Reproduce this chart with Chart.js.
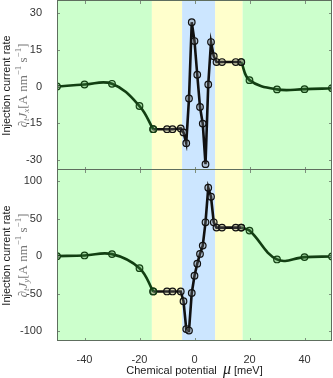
<!DOCTYPE html>
<html>
<head>
<meta charset="utf-8">
<script src="https://cdn.jsdelivr.net/npm/chart.js@4"></script>
<style>
html, body { margin: 0; padding: 0; background: #fff; }
#wrap { position: relative; width: 333px; height: 378px; }
#topChart { position: absolute; left: 0; top: 0; }
#botChart { position: absolute; left: 0; top: 169px; }
</style>
</head>
<body>
<div id="wrap">
  <canvas id="topChart" width="333" height="171"></canvas>
  <canvas id="botChart" width="333" height="209"></canvas>
</div>
<script>
// Chemical potential (meV) for each segment
const muLeft = [-50, -40, -30, -20, -15];
const muMid = [-15, -10, -8, -5, -4, -3, -2, -1, 0, 1, 2, 3, 4, 5, 6, 7, 8, 10, 15, 17];
const muRight = [17, 20, 30, 40, 50];

// d/dt Jx
const jxLeft = [0, 0.8, 1.1, -8, -17.5];
const jxMid = [-17.5, -17.5, -17.5, -17.2, -18.8, -23.2, -4.9, 26.3, 18.6, 4.8, -8.4, -15.2, -31.8, 0.8, 18.2, 12.4, 10, 10, 10, 10];
const jxRight = [10, 2.6, -1.2, -1.1, -0.7];

// d/dt Jy
const jyLeft = [0, 0.9, 2.7, -16, -47];
const jyMid = [-47, -47, -47, -47, -60, -97, -99, -49, -26, -10, 3, 14, 45, 91, 79, 45, 38, 38, 38, 38];
const jyRight = [38, 34, -4.4, -1.3, -0.4];

// ticks
const xTicks = [-40, -20, 0, 20, 40];
const yTicksX = [-30, -15, 0, 15, 30];
const yTicksY = [-100, -50, 0, 50, 100];

// shaded regions
const bandEdges = [-50, -15.5, -4.5, 7.5, 17.5, 50];
const bandColors = ['#ccffcc', '#ffffcc', '#cce6ff', '#ffffcc', '#ccffcc'];

const GREEN = '#123f12';
const BLACK = '#111111';
const sans = '"Liberation Sans", Arial, sans-serif';
const serif = '"Liberation Serif", "DejaVu Serif", serif';

function pts(xs, ys) {
    return xs.map((x, i) => ({ x: x, y: ys[i] }));
}

function lineSet(data, color, fill, tension) {
    return {
        data: data,
        borderColor: color,
        borderWidth: 2.6,
        tension: tension,
        pointRadius: 3.3,
        pointBorderWidth: 1.2,
        pointBorderColor: color,
        pointBackgroundColor: fill
    };
}

// draws a string made of pieces (for sub/superscripts)
function drawPieces(ctx, pieces, cx, cy) {
    let total = 0;
    pieces.forEach(p => { ctx.font = p.f; p.w = ctx.measureText(p.t).width; total += p.w; });
    let x = cx - total / 2;
    ctx.textAlign = 'left';
    pieces.forEach(p => {
        ctx.font = p.f;
        ctx.fillText(p.t, x, cy + (p.dy || 0));
        x += p.w;
    });
}

const bandsPlugin = {
    id: 'bands',
    beforeDatasetsDraw(chart) {
        const ctx = chart.ctx, a = chart.chartArea, xs = chart.scales.x;
        ctx.save();
        for (let i = 0; i < bandColors.length; i++) {
            const x0 = Math.max(a.left, xs.getPixelForValue(bandEdges[i]));
            const x1 = Math.min(a.right, xs.getPixelForValue(bandEdges[i + 1]));
            ctx.fillStyle = bandColors[i];
            ctx.fillRect(x0, a.top, x1 - x0, a.bottom - a.top);
        }
        ctx.restore();
    }
};

const framePlugin = {
    id: 'frame',
    afterDatasetsDraw(chart, args, opts) {
        const ctx = chart.ctx, a = chart.chartArea;
        const xs = chart.scales.x, ys = chart.scales.y;
        ctx.save();
        ctx.strokeStyle = '#7d8f7d';
        ctx.lineWidth = 1;
        ctx.beginPath();
        xTicks.forEach(v => {
            const px = Math.round(xs.getPixelForValue(v)) + 0.5;
            ctx.moveTo(px, a.top); ctx.lineTo(px, a.top + 3);
            ctx.moveTo(px, a.bottom); ctx.lineTo(px, a.bottom - 3);
        });
        opts.yTicks.forEach(v => {
            const py = Math.round(ys.getPixelForValue(v)) + 0.5;
            ctx.moveTo(a.left, py); ctx.lineTo(a.left + 3, py);
            ctx.moveTo(a.right, py); ctx.lineTo(a.right - 3, py);
        });
        ctx.stroke();
        ctx.strokeStyle = '#5e6e5e';
        ctx.strokeRect(Math.round(a.left) + 0.5, Math.round(a.top) - 0.5, Math.round(a.right - a.left) - 1, Math.round(a.bottom - a.top));
        ctx.restore();
    },
    afterDraw(chart, args, opts) {
        const ctx = chart.ctx, a = chart.chartArea;
        const cy = (a.top + a.bottom) / 2;
        ctx.save();
        ctx.translate(0, cy);
        ctx.rotate(-Math.PI / 2);
        ctx.textBaseline = 'middle';
        ctx.fillStyle = '#1a1a1a';
        ctx.textAlign = 'center';
        ctx.font = '11px ' + sans;
        ctx.fillText('Injection current rate', 0, 7);
        ctx.fillStyle = '#777777';
        drawPieces(ctx, [
            { t: '\u2202', f: 'italic 13px ' + serif },
            { t: 't', f: 'italic 9px ' + serif, dy: 3 },
            { t: 'J', f: 'italic 13px ' + serif },
            { t: opts.sub, f: 'italic 9px ' + serif, dy: 3 },
            { t: '[A nm', f: '13px ' + serif },
            { t: '\u22121', f: '9px ' + serif, dy: -5 },
            { t: ' s', f: '13px ' + serif },
            { t: '\u22121', f: '9px ' + serif, dy: -5 },
            { t: ']', f: '13px ' + serif }
        ], 0, 24);
        ctx.restore();
        if (opts.xTitle) {
            ctx.save();
            ctx.fillStyle = '#1a1a1a';
            ctx.textBaseline = 'alphabetic';
            drawPieces(ctx, [
                { t: 'Chemical potential  ', f: '11px ' + sans },
                { t: '\u03bc', f: 'italic 16px ' + serif },
                { t: ' [meV]', f: '11px ' + sans }
            ], (a.left + a.right) / 2, opts.xTitleY);
            ctx.restore();
        }
    }
};

function noPad(s) {
    s.paddingTop = 0;
    s.paddingBottom = 0;
    s.paddingLeft = 0;
    s.paddingRight = 0;
}

function makeChart(id, left, mid, right, yMin, yMax, yTicks, sub, showX) {
    const ctx = document.getElementById(id).getContext('2d');
    return new Chart(ctx, {
        type: 'line',
        data: {
            datasets: [
                lineSet(pts(muLeft, left), GREEN, 'rgba(60,120,60,0.3)', 0.4),
                lineSet(pts(muMid, mid), BLACK, 'rgba(120,120,120,0.3)', 0),
                lineSet(pts(muRight, right), GREEN, 'rgba(60,120,60,0.3)', 0.4)
            ]
        },
        options: {
            responsive: false,
            animation: false,
            layout: { autoPadding: false, padding: { top: 1, right: 1, bottom: showX ? 0 : 1, left: 0 } },
            plugins: {
                legend: { display: false },
                tooltip: { enabled: false },
                frame: { yTicks: yTicks, sub: sub, xTitle: showX, xTitleY: 205 }
            },
            scales: {
                x: {
                    type: 'linear',
                    min: -50,
                    max: 50,
                    display: showX,
                    grid: { display: false },
                    border: { display: false },
                    afterBuildTicks: s => { s.ticks = xTicks.map(v => ({ value: v })); },
                    afterFit: s => { s.height = showX ? 37 : 0; noPad(s); },
                    ticks: { padding: 4, color: '#333333', font: { size: 11, family: sans } }
                },
                y: {
                    min: yMin,
                    max: yMax,
                    grid: { display: false },
                    border: { display: false },
                    afterBuildTicks: s => { s.ticks = yTicks.map(v => ({ value: v })); },
                    afterFit: s => { s.width = 57; noPad(s); },
                    ticks: { padding: 7, color: '#333333', font: { size: 11, family: sans } }
                }
            }
        },
        plugins: [bandsPlugin, framePlugin]
    });
}

makeChart('topChart', jxLeft, jxMid, jxRight, -34.2, 35, yTicksX, 'x', false);
makeChart('botChart', jyLeft, jyMid, jyRight, -112.9, 114.6, yTicksY, 'y', true);
</script>
</body>
</html>
